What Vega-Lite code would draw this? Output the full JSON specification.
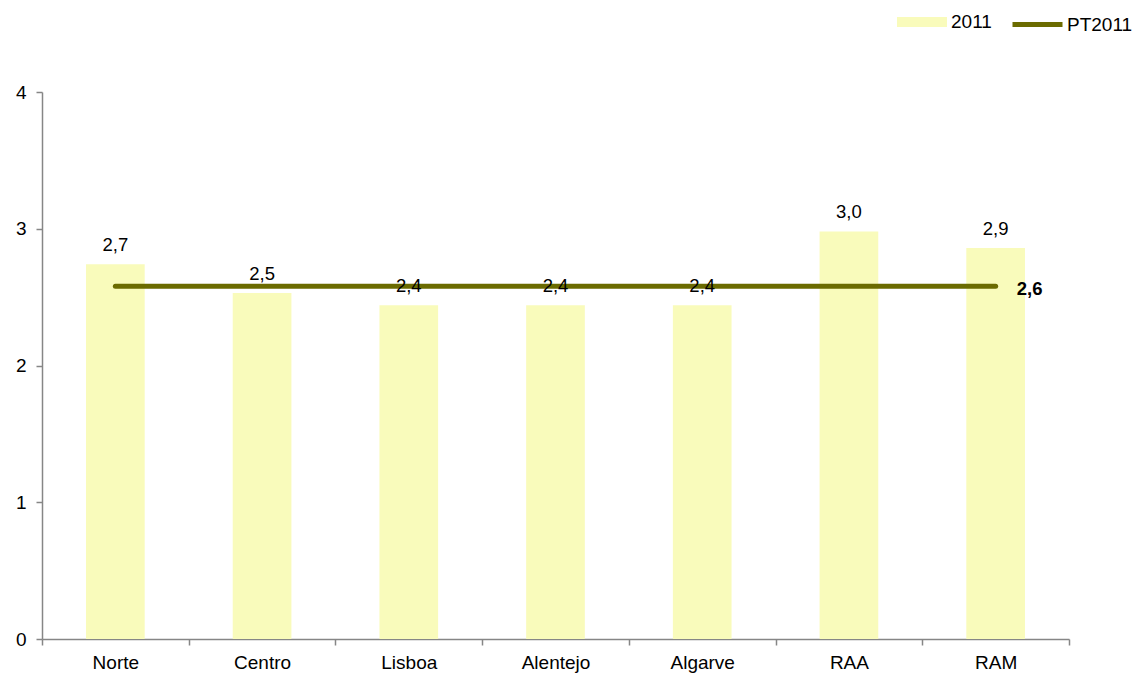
{
  "$schema": "https://vega.github.io/schema/vega-lite/v6.json",
  "width": 1027,
  "height": 547,
  "autosize": "none",
  "padding": {"left": 42, "top": 92, "right": 67, "bottom": 34},
  "background": "white",
  "config": {
    "font": "Liberation Sans",
    "view": {"stroke": null},
    "locale": {"number": {"decimal": ",", "thousands": ".", "grouping": [3], "currency": ["", " €"]}},
    "axis": {
      "domainColor": "#868686",
      "tickColor": "#868686",
      "domainWidth": 1.5,
      "tickWidth": 1.5,
      "tickSize": 6,
      "labelFontSize": 19,
      "labelColor": "#000000",
      "labelFont": "Liberation Sans",
      "grid": false,
      "title": null
    },
    "legend": {
      "labelFontSize": 19,
      "labelColor": "#000000",
      "labelFont": "Liberation Sans",
      "title": null
    }
  },
  "data": {
    "values": [
      {"regiao": "Norte", "valor": 2.74, "pt": 2.58},
      {"regiao": "Centro", "valor": 2.53, "pt": 2.58},
      {"regiao": "Lisboa", "valor": 2.44, "pt": 2.58},
      {"regiao": "Alentejo", "valor": 2.44, "pt": 2.58},
      {"regiao": "Algarve", "valor": 2.44, "pt": 2.58},
      {"regiao": "RAA", "valor": 2.98, "pt": 2.58},
      {"regiao": "RAM", "valor": 2.86, "pt": 2.58}
    ]
  },
  "encoding": {
    "x": {
      "field": "regiao",
      "type": "nominal",
      "sort": null,
      "scale": {"paddingInner": 0, "paddingOuter": 0},
      "axis": {"labelAngle": 0, "tickBand": "extent", "labelPadding": 8}
    }
  },
  "layer": [
    {
      "mark": {"type": "bar", "width": {"band": 0.4}},
      "encoding": {
        "y": {
          "field": "valor",
          "type": "quantitative",
          "scale": {"domain": [0, 4], "nice": false},
          "axis": {"values": [0, 1, 2, 3, 4], "format": "d", "labelPadding": 10}
        },
        "fill": {
          "datum": "2011",
          "scale": {"range": ["#F9FBBB"]},
          "legend": {
            "orient": "none",
            "legendX": 855,
            "legendY": -95,
            "symbolType": "M-1,-0.2H1V0.2H-1Z",
            "symbolSize": 2500,
            "symbolStrokeWidth": 0,
            "labelOffset": 4
          }
        }
      }
    },
    {
      "mark": {"type": "line", "strokeWidth": 5, "strokeCap": "round"},
      "encoding": {
        "y": {"field": "pt", "type": "quantitative"},
        "stroke": {
          "datum": "PT2011",
          "scale": {"range": ["#6B6B00"]},
          "legend": {
            "orient": "none",
            "legendX": 968,
            "legendY": -95,
            "symbolType": "stroke",
            "symbolSize": 2500,
            "symbolStrokeWidth": 5,
            "labelOffset": 2
          }
        }
      }
    },
    {
      "mark": {"type": "text", "fontSize": 18.5, "baseline": "alphabetic", "dy": -13, "color": "#000000"},
      "encoding": {
        "y": {"field": "valor", "type": "quantitative"},
        "text": {"field": "valor", "type": "quantitative", "format": ".1f"}
      }
    },
    {
      "transform": [{"filter": "datum.regiao === 'RAM'"}],
      "mark": {"type": "text", "fontSize": 18.5, "fontWeight": "bold", "baseline": "middle", "dx": 34, "dy": 3, "color": "#000000"},
      "encoding": {
        "y": {"field": "pt", "type": "quantitative"},
        "text": {"field": "pt", "type": "quantitative", "format": ".1f"}
      }
    }
  ]
}
